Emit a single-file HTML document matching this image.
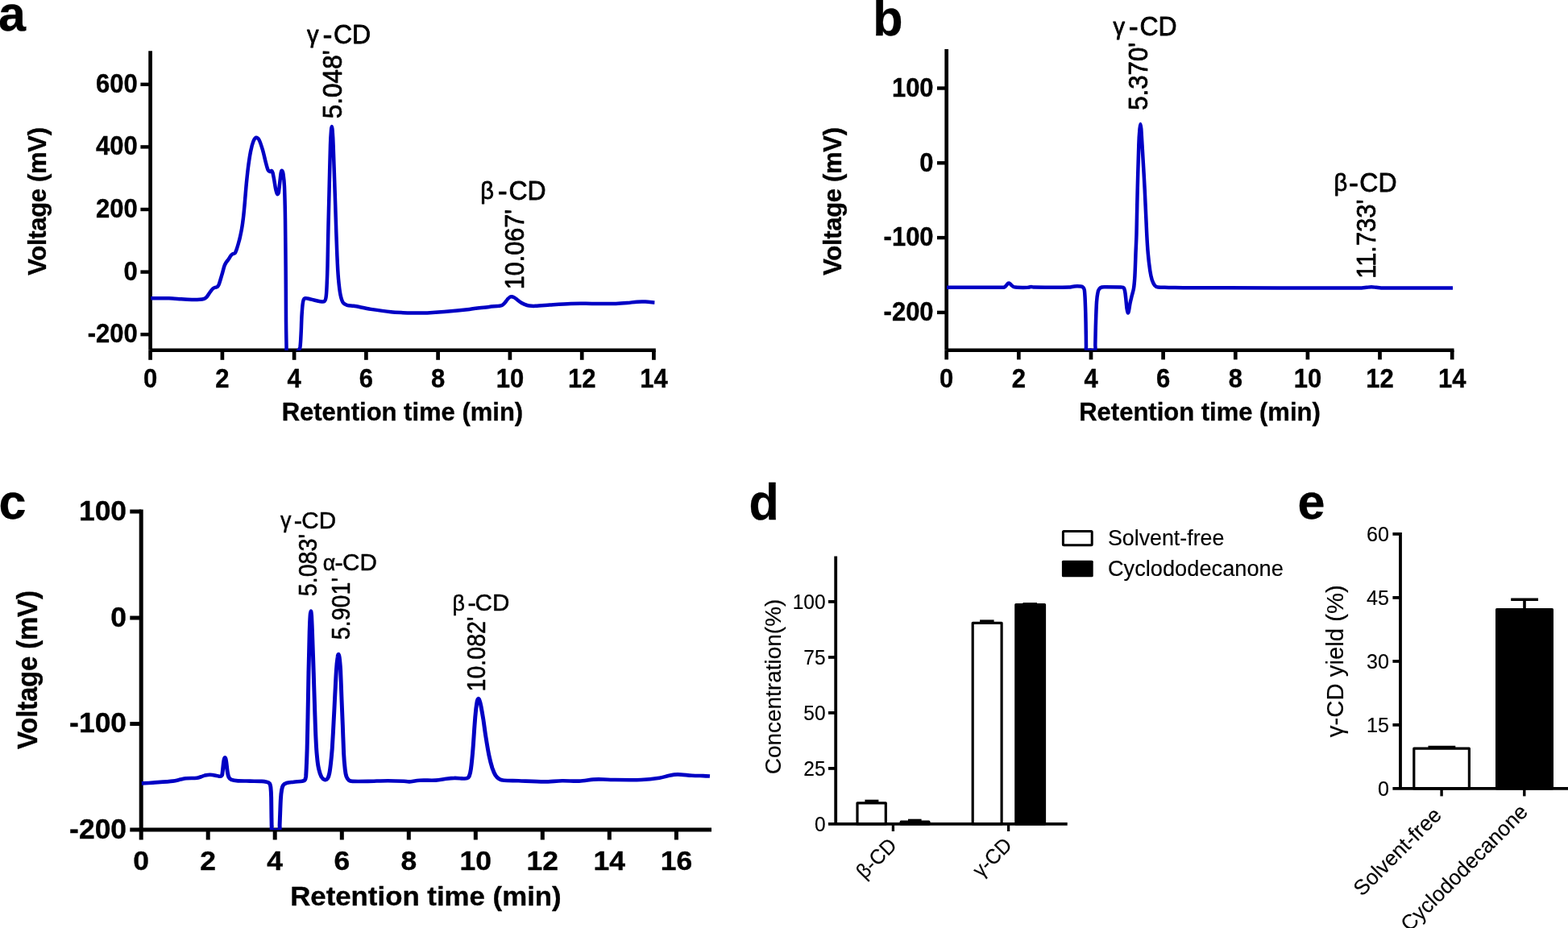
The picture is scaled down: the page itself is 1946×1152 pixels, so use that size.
<!DOCTYPE html>
<html lang="en"><head><meta charset="utf-8"><title>Figure</title>
<style>
html,body{margin:0;padding:0;background:#fff;}
body{width:1946px;height:1152px;overflow:hidden;}
svg{display:block;font-family:"Liberation Sans",sans-serif;fill:#000;}
</style></head><body>
<svg width="1946" height="1152" viewBox="0 0 1946 1152">
<rect x="0" y="0" width="1946" height="1152" fill="#fff"/>
<clipPath id="ca"><rect x="187.2" y="50" width="640" height="384.9"/></clipPath>
<clipPath id="cb"><rect x="1175.0" y="50" width="640" height="384.8"/></clipPath>
<clipPath id="cc"><rect x="175.6" y="620" width="720" height="410.3"/></clipPath>
<text transform="translate(-2.0 37.7) scale(1.000 1.000)" font-size="61.00" font-weight="bold" text-anchor="start" stroke="#000" stroke-width="0.35" stroke-linejoin="round">a</text>
<text transform="translate(1083.2 43.6) scale(1.000 1.030)" font-size="61.00" font-weight="bold" text-anchor="start" stroke="#000" stroke-width="0.35" stroke-linejoin="round">b</text>
<text transform="translate(-1.5 644.3) scale(1.000 1.000)" font-size="61.00" font-weight="bold" text-anchor="start" stroke="#000" stroke-width="0.35" stroke-linejoin="round">c</text>
<text transform="translate(929.5 644.5) scale(1.000 1.020)" font-size="61.00" font-weight="bold" text-anchor="start" stroke="#000" stroke-width="0.35" stroke-linejoin="round">d</text>
<text transform="translate(1610.5 644.3) scale(1.000 1.000)" font-size="61.00" font-weight="bold" text-anchor="start" stroke="#000" stroke-width="0.35" stroke-linejoin="round">e</text>
<line x1="186.6" y1="63.3" x2="186.6" y2="434.8" stroke="#000" stroke-width="4.70" stroke-linecap="butt"/>
<line x1="186.6" y1="434.8" x2="813.8" y2="434.8" stroke="#000" stroke-width="4.40" stroke-linecap="butt"/>
<line x1="186.6" y1="434.8" x2="186.6" y2="446.8" stroke="#000" stroke-width="4.70" stroke-linecap="butt"/>
<text transform="translate(186.6 481.0) scale(1.000 1.050)" font-size="31.00" font-weight="bold" text-anchor="middle" stroke="#000" stroke-width="0.35" stroke-linejoin="round">0</text>
<line x1="275.9" y1="434.8" x2="275.9" y2="446.8" stroke="#000" stroke-width="4.70" stroke-linecap="butt"/>
<text transform="translate(275.9 481.0) scale(1.000 1.050)" font-size="31.00" font-weight="bold" text-anchor="middle" stroke="#000" stroke-width="0.35" stroke-linejoin="round">2</text>
<line x1="365.1" y1="434.8" x2="365.1" y2="446.8" stroke="#000" stroke-width="4.70" stroke-linecap="butt"/>
<text transform="translate(365.1 481.0) scale(1.000 1.050)" font-size="31.00" font-weight="bold" text-anchor="middle" stroke="#000" stroke-width="0.35" stroke-linejoin="round">4</text>
<line x1="454.4" y1="434.8" x2="454.4" y2="446.8" stroke="#000" stroke-width="4.70" stroke-linecap="butt"/>
<text transform="translate(454.4 481.0) scale(1.000 1.050)" font-size="31.00" font-weight="bold" text-anchor="middle" stroke="#000" stroke-width="0.35" stroke-linejoin="round">6</text>
<line x1="543.6" y1="434.8" x2="543.6" y2="446.8" stroke="#000" stroke-width="4.70" stroke-linecap="butt"/>
<text transform="translate(543.6 481.0) scale(1.000 1.050)" font-size="31.00" font-weight="bold" text-anchor="middle" stroke="#000" stroke-width="0.35" stroke-linejoin="round">8</text>
<line x1="632.9" y1="434.8" x2="632.9" y2="446.8" stroke="#000" stroke-width="4.70" stroke-linecap="butt"/>
<text transform="translate(632.9 481.0) scale(1.000 1.050)" font-size="31.00" font-weight="bold" text-anchor="middle" stroke="#000" stroke-width="0.35" stroke-linejoin="round">10</text>
<line x1="722.2" y1="434.8" x2="722.2" y2="446.8" stroke="#000" stroke-width="4.70" stroke-linecap="butt"/>
<text transform="translate(722.2 481.0) scale(1.000 1.050)" font-size="31.00" font-weight="bold" text-anchor="middle" stroke="#000" stroke-width="0.35" stroke-linejoin="round">12</text>
<line x1="811.4" y1="434.8" x2="811.4" y2="446.8" stroke="#000" stroke-width="4.70" stroke-linecap="butt"/>
<text transform="translate(811.4 481.0) scale(1.000 1.050)" font-size="31.00" font-weight="bold" text-anchor="middle" stroke="#000" stroke-width="0.35" stroke-linejoin="round">14</text>
<line x1="174.4" y1="104.8" x2="186.6" y2="104.8" stroke="#000" stroke-width="4.40" stroke-linecap="butt"/>
<text transform="translate(170.8 114.8) scale(1.000 1.050)" font-size="31.00" font-weight="bold" text-anchor="end" stroke="#000" stroke-width="0.35" stroke-linejoin="round">600</text>
<line x1="174.4" y1="182.4" x2="186.6" y2="182.4" stroke="#000" stroke-width="4.40" stroke-linecap="butt"/>
<text transform="translate(170.8 192.4) scale(1.000 1.050)" font-size="31.00" font-weight="bold" text-anchor="end" stroke="#000" stroke-width="0.35" stroke-linejoin="round">400</text>
<line x1="174.4" y1="260.0" x2="186.6" y2="260.0" stroke="#000" stroke-width="4.40" stroke-linecap="butt"/>
<text transform="translate(170.8 270.0) scale(1.000 1.050)" font-size="31.00" font-weight="bold" text-anchor="end" stroke="#000" stroke-width="0.35" stroke-linejoin="round">200</text>
<line x1="174.4" y1="337.6" x2="186.6" y2="337.6" stroke="#000" stroke-width="4.40" stroke-linecap="butt"/>
<text transform="translate(170.8 347.6) scale(1.000 1.050)" font-size="31.00" font-weight="bold" text-anchor="end" stroke="#000" stroke-width="0.35" stroke-linejoin="round">0</text>
<line x1="174.4" y1="415.2" x2="186.6" y2="415.2" stroke="#000" stroke-width="4.40" stroke-linecap="butt"/>
<text transform="translate(170.8 425.2) scale(1.000 1.050)" font-size="31.00" font-weight="bold" text-anchor="end" stroke="#000" stroke-width="0.35" stroke-linejoin="round">-200</text>
<text transform="translate(499.4 521.8) scale(1.000 1.010)" font-size="31.00" font-weight="bold" text-anchor="middle" stroke="#000" stroke-width="0.35" stroke-linejoin="round">Retention time (min)</text>
<text transform="translate(57.0 250.0) rotate(-90) scale(1.000 1.020)" font-size="31.00" font-weight="bold" text-anchor="middle" stroke="#000" stroke-width="0.35" stroke-linejoin="round" letter-spacing="-0.30">Voltage (mV)</text>
<path d="M187.0,370.2C190.8,370.2 203.4,370.1 209.7,370.3C214.8,370.4 220.3,371.0 225.0,371.3C229.3,371.6 234.2,371.9 238.0,372.0C241.3,372.1 245.4,372.0 248.0,371.8C249.9,371.7 252.1,371.3 253.5,370.8C254.6,370.4 255.7,369.7 256.5,368.8C257.7,367.4 259.6,364.2 260.8,362.5C261.8,361.1 263.1,359.4 264.0,358.5C264.7,357.8 265.6,357.4 266.5,357.0C267.4,356.6 268.7,356.9 269.5,356.3C270.3,355.7 271.0,354.5 271.5,353.5C272.2,352.0 272.9,349.5 273.5,347.5C274.2,345.1 275.2,341.8 276.0,339.0C276.8,336.1 277.8,332.2 278.5,330.0C279.0,328.6 279.7,327.3 280.5,326.0C281.3,324.7 282.6,323.4 283.5,322.0C284.5,320.6 285.6,318.4 286.5,317.3C287.2,316.5 288.2,315.7 289.0,315.2C289.8,314.7 290.9,315.0 291.5,314.3C292.2,313.4 293.0,311.5 293.5,310.0C294.2,308.0 295.1,305.0 295.8,302.5C296.6,299.8 297.4,296.9 298.0,294.0C298.7,290.8 299.6,286.7 300.2,283.0C300.9,279.0 301.5,274.3 302.0,270.0C302.6,265.3 303.0,260.0 303.5,255.0C304.1,248.7 304.7,239.9 305.4,232.4C306.1,224.8 306.9,216.7 307.8,209.3C308.7,202.1 310.0,193.4 311.1,187.8C311.9,183.6 313.3,178.3 314.4,175.5C315.1,173.7 316.5,171.0 317.7,170.7C318.9,170.4 320.8,172.1 321.5,173.5C322.9,176.1 324.7,181.9 326.0,186.2C327.4,191.1 329.0,198.6 330.1,202.7C330.8,205.5 331.8,209.3 332.6,211.0C333.0,211.9 334.3,212.8 335.0,213.0C335.7,213.2 336.4,211.8 337.0,212.0C337.6,212.2 338.2,213.6 338.5,214.5C339.0,216.2 339.5,219.5 340.0,222.0C340.6,225.2 341.3,230.8 342.0,234.0C342.5,236.4 343.6,240.2 344.2,241.0C344.7,241.7 345.6,239.8 345.8,239.0C346.3,236.7 346.7,231.0 347.2,227.0C347.7,223.0 348.2,217.5 348.6,215.0C348.8,213.9 349.4,211.6 349.9,211.8C350.4,212.0 351.3,214.5 351.5,216.0C352.0,219.4 352.8,226.6 353.0,232.0C353.4,241.3 353.8,258.7 354.0,272.0C354.3,288.3 354.4,310.7 354.6,330.0C354.8,351.3 354.9,383.3 355.0,400.0C355.1,410.0 355.3,423.3 355.5,430.0C355.6,433.3 355.1,438.5 356.2,440.0C357.3,441.5 360.2,439.5 362.0,439.0C363.7,438.6 365.6,437.9 367.0,437.2C368.2,436.6 369.6,436.0 370.5,435.0C371.4,434.0 372.1,432.4 372.4,431.0C372.8,428.8 373.0,425.0 373.2,422.0C373.4,418.5 373.6,414.0 373.8,410.0C374.0,405.0 374.2,397.3 374.5,392.0C374.8,387.3 375.2,381.3 375.6,378.0C375.8,376.0 376.3,373.3 376.8,372.0C377.1,371.2 377.9,370.5 378.8,370.3C379.8,370.1 381.6,370.4 382.9,370.7C385.2,371.2 390.0,372.6 392.8,373.2C395.0,373.7 397.8,374.4 399.5,374.5C400.6,374.6 402.0,374.6 402.8,373.8C403.6,373.0 404.3,371.0 404.5,369.5C405.0,366.4 405.4,359.8 405.6,355.0C405.9,348.4 406.3,338.3 406.5,330.0C406.8,317.5 407.1,295.8 407.5,280.0C407.8,265.0 408.2,250.0 408.6,235.0C409.0,218.3 409.6,192.2 410.0,180.0C410.2,174.0 410.7,165.8 411.0,162.0C411.1,160.3 411.5,157.0 411.8,157.0C412.1,157.0 412.5,160.3 412.6,162.0C412.9,165.8 413.4,174.0 413.6,180.0C414.0,190.1 414.6,208.3 415.1,222.5C415.6,237.5 416.2,254.2 416.7,270.0C417.2,285.9 417.8,305.3 418.4,318.0C418.8,327.3 419.3,338.0 420.0,346.0C420.6,352.7 421.5,361.1 422.5,366.0C423.2,369.4 424.4,373.6 425.8,375.7C426.8,377.3 428.9,378.2 430.7,378.8C432.9,379.5 436.3,379.3 439.0,379.8C443.9,380.6 453.2,382.7 460.4,383.9C468.1,385.1 478.6,386.6 485.2,387.3C490.1,387.8 495.7,388.0 500.0,388.2C503.7,388.4 507.3,388.6 511.0,388.6C516.0,388.6 523.8,388.7 530.2,388.4C536.9,388.1 544.2,387.6 551.2,387.0C559.9,386.2 573.3,384.9 582.6,383.9C590.7,383.0 600.9,381.6 607.0,380.9C611.0,380.5 616.3,380.1 619.0,379.8C620.4,379.6 621.8,379.6 623.0,379.0C624.2,378.4 625.1,377.5 626.0,376.5C627.1,375.3 628.7,372.9 629.8,371.6C630.6,370.7 631.6,369.6 632.5,369.0C633.2,368.5 634.2,368.3 635.0,368.3C635.8,368.3 636.7,368.6 637.5,369.0C638.4,369.4 639.4,370.2 640.3,370.8C641.9,372.0 644.9,374.6 647.2,376.0C649.4,377.3 652.2,378.4 654.2,379.0C655.9,379.5 657.8,379.7 659.5,379.8C661.2,379.9 663.0,379.9 664.7,379.8C668.5,379.6 676.4,379.0 682.2,378.6C689.5,378.1 699.7,377.3 708.4,377.0C717.1,376.7 725.9,376.9 734.6,376.9C743.9,376.9 757.0,377.0 764.3,376.9C769.0,376.8 773.9,376.4 778.3,376.0C782.4,375.7 786.7,374.9 790.5,374.7C794.0,374.5 797.5,374.5 801.0,374.6C804.6,374.7 810.5,375.4 812.4,375.5" fill="none" stroke="#0000c4" stroke-width="4.50" stroke-linejoin="round" stroke-linecap="butt" clip-path="url(#ca)"/>
<text transform="translate(460.2 54.0) scale(1.000 1.040)" font-size="32.00" stroke="#000" stroke-width="0.75" stroke-linejoin="round"><tspan x="-79.2" dy="-0.6" text-anchor="start" font-size="29.12">γ</tspan><tspan x="-53.8" dy="1.56" text-anchor="middle" font-size="35.81">-</tspan><tspan x="0" dy="-0.96" text-anchor="end">CD</tspan></text>
<text transform="translate(677.6 247.6) scale(1.000 1.040)" font-size="32.00" stroke="#000" stroke-width="0.75" stroke-linejoin="round"><tspan x="-81.4" dy="-0.6" text-anchor="start" font-size="29.12">β</tspan><tspan x="-53.8" dy="1.56" text-anchor="middle" font-size="35.81">-</tspan><tspan x="0" dy="-0.96" text-anchor="end">CD</tspan></text>
<text transform="translate(424.3 147.2) rotate(-90) scale(0.985 1.040)" font-size="32.00" text-anchor="start" stroke="#000" stroke-width="0.75" stroke-linejoin="round">5.048'</text>
<text transform="translate(650.2 359.3) rotate(-90) scale(0.955 1.040)" font-size="32.00" text-anchor="start" stroke="#000" stroke-width="0.75" stroke-linejoin="round">10.067'</text>
<line x1="1174.7" y1="61.0" x2="1174.7" y2="434.8" stroke="#000" stroke-width="4.70" stroke-linecap="butt"/>
<line x1="1174.7" y1="434.8" x2="1804.5" y2="434.8" stroke="#000" stroke-width="4.40" stroke-linecap="butt"/>
<line x1="1174.7" y1="434.8" x2="1174.7" y2="446.4" stroke="#000" stroke-width="4.70" stroke-linecap="butt"/>
<text transform="translate(1174.7 481.0) scale(1.000 1.050)" font-size="31.00" font-weight="bold" text-anchor="middle" stroke="#000" stroke-width="0.35" stroke-linejoin="round">0</text>
<line x1="1264.3" y1="434.8" x2="1264.3" y2="446.4" stroke="#000" stroke-width="4.70" stroke-linecap="butt"/>
<text transform="translate(1264.3 481.0) scale(1.000 1.050)" font-size="31.00" font-weight="bold" text-anchor="middle" stroke="#000" stroke-width="0.35" stroke-linejoin="round">2</text>
<line x1="1354.0" y1="434.8" x2="1354.0" y2="446.4" stroke="#000" stroke-width="4.70" stroke-linecap="butt"/>
<text transform="translate(1354.0 481.0) scale(1.000 1.050)" font-size="31.00" font-weight="bold" text-anchor="middle" stroke="#000" stroke-width="0.35" stroke-linejoin="round">4</text>
<line x1="1443.6" y1="434.8" x2="1443.6" y2="446.4" stroke="#000" stroke-width="4.70" stroke-linecap="butt"/>
<text transform="translate(1443.6 481.0) scale(1.000 1.050)" font-size="31.00" font-weight="bold" text-anchor="middle" stroke="#000" stroke-width="0.35" stroke-linejoin="round">6</text>
<line x1="1533.3" y1="434.8" x2="1533.3" y2="446.4" stroke="#000" stroke-width="4.70" stroke-linecap="butt"/>
<text transform="translate(1533.3 481.0) scale(1.000 1.050)" font-size="31.00" font-weight="bold" text-anchor="middle" stroke="#000" stroke-width="0.35" stroke-linejoin="round">8</text>
<line x1="1622.9" y1="434.8" x2="1622.9" y2="446.4" stroke="#000" stroke-width="4.70" stroke-linecap="butt"/>
<text transform="translate(1622.9 481.0) scale(1.000 1.050)" font-size="31.00" font-weight="bold" text-anchor="middle" stroke="#000" stroke-width="0.35" stroke-linejoin="round">10</text>
<line x1="1712.5" y1="434.8" x2="1712.5" y2="446.4" stroke="#000" stroke-width="4.70" stroke-linecap="butt"/>
<text transform="translate(1712.5 481.0) scale(1.000 1.050)" font-size="31.00" font-weight="bold" text-anchor="middle" stroke="#000" stroke-width="0.35" stroke-linejoin="round">12</text>
<line x1="1802.2" y1="434.8" x2="1802.2" y2="446.4" stroke="#000" stroke-width="4.70" stroke-linecap="butt"/>
<text transform="translate(1802.2 481.0) scale(1.000 1.050)" font-size="31.00" font-weight="bold" text-anchor="middle" stroke="#000" stroke-width="0.35" stroke-linejoin="round">14</text>
<line x1="1163.0" y1="109.5" x2="1174.7" y2="109.5" stroke="#000" stroke-width="4.40" stroke-linecap="butt"/>
<text transform="translate(1158.6 119.8) scale(1.000 1.050)" font-size="31.00" font-weight="bold" text-anchor="end" stroke="#000" stroke-width="0.35" stroke-linejoin="round">100</text>
<line x1="1163.0" y1="202.3" x2="1174.7" y2="202.3" stroke="#000" stroke-width="4.40" stroke-linecap="butt"/>
<text transform="translate(1158.6 212.6) scale(1.000 1.050)" font-size="31.00" font-weight="bold" text-anchor="end" stroke="#000" stroke-width="0.35" stroke-linejoin="round">0</text>
<line x1="1163.0" y1="295.1" x2="1174.7" y2="295.1" stroke="#000" stroke-width="4.40" stroke-linecap="butt"/>
<text transform="translate(1158.6 305.4) scale(1.000 1.050)" font-size="31.00" font-weight="bold" text-anchor="end" stroke="#000" stroke-width="0.35" stroke-linejoin="round">-100</text>
<line x1="1163.0" y1="387.9" x2="1174.7" y2="387.9" stroke="#000" stroke-width="4.40" stroke-linecap="butt"/>
<text transform="translate(1158.6 398.2) scale(1.000 1.050)" font-size="31.00" font-weight="bold" text-anchor="end" stroke="#000" stroke-width="0.35" stroke-linejoin="round">-200</text>
<text transform="translate(1489.0 521.8) scale(1.000 1.010)" font-size="31.00" font-weight="bold" text-anchor="middle" stroke="#000" stroke-width="0.35" stroke-linejoin="round">Retention time (min)</text>
<text transform="translate(1044.0 250.0) rotate(-90) scale(1.000 1.020)" font-size="31.00" font-weight="bold" text-anchor="middle" stroke="#000" stroke-width="0.35" stroke-linejoin="round" letter-spacing="-0.30">Voltage (mV)</text>
<path d="M1175.0,356.8C1186.5,356.8 1232.2,356.9 1244.2,356.8C1245.2,356.8 1246.2,356.6 1247.0,356.2C1247.8,355.8 1248.4,354.8 1249.0,354.2C1249.6,353.6 1250.1,352.7 1250.6,352.3C1251.0,351.9 1251.6,351.6 1252.1,351.6C1252.6,351.6 1253.2,352.0 1253.6,352.3C1254.2,352.7 1254.8,353.6 1255.5,354.2C1256.3,354.8 1257.2,355.8 1258.2,356.2C1259.4,356.6 1261.0,356.8 1262.4,356.8C1265.3,356.9 1272.7,356.9 1275.6,356.8C1277.0,356.7 1278.3,356.1 1279.7,356.1C1281.1,356.1 1282.4,356.6 1283.8,356.6C1291.6,356.7 1318.5,356.8 1326.7,356.6C1328.9,356.6 1331.1,355.7 1333.3,355.5C1335.8,355.3 1339.7,355.4 1341.5,355.6C1342.5,355.7 1343.6,356.1 1344.3,356.8C1345.0,357.5 1345.6,358.8 1345.8,360.0C1346.2,362.2 1346.4,366.7 1346.6,370.0C1346.8,374.8 1347.1,382.7 1347.3,389.0C1347.5,396.5 1347.7,408.2 1347.8,415.0C1347.9,420.0 1347.9,426.7 1348.0,430.0C1348.0,431.5 1347.4,433.8 1348.3,434.6C1349.2,435.4 1351.8,434.6 1353.5,434.6C1355.3,434.6 1358.0,435.7 1359.0,434.6C1360.0,433.5 1359.2,430.2 1359.3,428.0C1359.4,423.1 1359.6,413.0 1359.8,405.5C1360.1,396.7 1360.5,382.1 1361.0,375.0C1361.3,371.0 1361.9,365.8 1362.5,363.0C1362.8,361.3 1363.7,359.4 1364.5,358.3C1365.2,357.4 1366.4,356.8 1367.5,356.5C1368.8,356.2 1370.5,356.3 1372.0,356.3C1376.1,356.3 1388.2,356.3 1392.0,356.5C1392.9,356.5 1394.0,356.6 1394.6,357.3C1395.3,358.1 1395.7,359.7 1396.0,361.0C1396.4,363.1 1396.9,367.0 1397.2,370.0C1397.6,373.7 1398.1,379.9 1398.5,383.0C1398.8,384.8 1399.4,388.0 1399.8,388.4C1400.2,388.8 1400.8,386.5 1401.0,385.5C1401.5,383.4 1402.0,379.1 1402.6,376.0C1403.3,372.8 1404.3,369.0 1405.0,366.0C1405.7,363.3 1406.6,360.7 1407.0,358.0C1407.6,354.2 1408.1,348.0 1408.4,343.0C1408.8,335.8 1409.2,323.5 1409.5,314.7C1409.8,306.5 1410.3,298.2 1410.5,290.0C1410.9,276.8 1411.2,253.7 1411.7,235.5C1412.2,217.2 1412.8,192.6 1413.3,180.0C1413.5,173.3 1414.1,164.3 1414.5,160.0C1414.7,158.0 1415.1,154.0 1415.4,154.0C1415.7,154.0 1416.1,158.0 1416.3,160.0C1416.6,164.3 1417.1,173.3 1417.5,180.0C1418.2,192.6 1419.8,217.2 1420.7,235.5C1421.6,253.7 1422.5,276.8 1423.2,290.0C1423.6,298.2 1424.1,307.0 1424.8,314.7C1425.4,321.9 1426.5,330.7 1427.3,336.2C1427.9,340.1 1428.8,344.7 1429.8,347.7C1430.6,350.0 1431.9,352.8 1433.1,354.3C1434.1,355.5 1435.7,356.4 1437.2,356.6C1440.1,357.0 1446.0,356.8 1450.4,356.9C1459.2,357.0 1476.8,357.3 1490.0,357.3C1529.9,357.4 1655.7,357.5 1690.0,357.4C1692.0,357.4 1694.0,357.0 1696.0,356.8C1698.0,356.6 1700.0,356.3 1702.0,356.3C1704.0,356.3 1706.0,356.6 1708.0,356.8C1710.0,357.0 1712.0,357.4 1714.0,357.4C1729.8,357.5 1788.2,357.4 1803.0,357.4" fill="none" stroke="#0000c4" stroke-width="4.50" stroke-linejoin="round" stroke-linecap="butt" clip-path="url(#cb)"/>
<text transform="translate(1460.6 44.0) scale(1.000 1.040)" font-size="32.00" stroke="#000" stroke-width="0.75" stroke-linejoin="round"><tspan x="-79.2" dy="-0.6" text-anchor="start" font-size="29.12">γ</tspan><tspan x="-54.0" dy="1.56" text-anchor="middle" font-size="35.81">-</tspan><tspan x="0" dy="-0.96" text-anchor="end">CD</tspan></text>
<text transform="translate(1733.5 237.8) scale(1.000 1.040)" font-size="32.00" stroke="#000" stroke-width="0.75" stroke-linejoin="round"><tspan x="-78.1" dy="-0.6" text-anchor="start" font-size="29.12">β</tspan><tspan x="-53.5" dy="1.56" text-anchor="middle" font-size="35.81">-</tspan><tspan x="0" dy="-0.96" text-anchor="end">CD</tspan></text>
<text transform="translate(1424.0 136.8) rotate(-90) scale(0.975 1.040)" font-size="32.00" text-anchor="start" stroke="#000" stroke-width="0.75" stroke-linejoin="round">5.370'</text>
<text transform="translate(1706.5 345.7) rotate(-90) scale(0.965 1.040)" font-size="32.00" text-anchor="start" stroke="#000" stroke-width="0.75" stroke-linejoin="round">11.733'</text>
<line x1="175.2" y1="632.5" x2="175.2" y2="1030.0" stroke="#000" stroke-width="5.00" stroke-linecap="butt"/>
<line x1="161.3" y1="1030.0" x2="883.0" y2="1030.0" stroke="#000" stroke-width="5.00" stroke-linecap="butt"/>
<line x1="175.2" y1="1030.0" x2="175.2" y2="1042.5" stroke="#000" stroke-width="5.00" stroke-linecap="butt"/>
<text transform="translate(175.2 1079.9) scale(1.075 1.035)" font-size="33.00" font-weight="bold" text-anchor="middle" stroke="#000" stroke-width="0.35" stroke-linejoin="round">0</text>
<line x1="258.2" y1="1030.0" x2="258.2" y2="1042.5" stroke="#000" stroke-width="5.00" stroke-linecap="butt"/>
<text transform="translate(258.2 1079.9) scale(1.075 1.035)" font-size="33.00" font-weight="bold" text-anchor="middle" stroke="#000" stroke-width="0.35" stroke-linejoin="round">2</text>
<line x1="341.2" y1="1030.0" x2="341.2" y2="1042.5" stroke="#000" stroke-width="5.00" stroke-linecap="butt"/>
<text transform="translate(341.2 1079.9) scale(1.075 1.035)" font-size="33.00" font-weight="bold" text-anchor="middle" stroke="#000" stroke-width="0.35" stroke-linejoin="round">4</text>
<line x1="424.3" y1="1030.0" x2="424.3" y2="1042.5" stroke="#000" stroke-width="5.00" stroke-linecap="butt"/>
<text transform="translate(424.3 1079.9) scale(1.075 1.035)" font-size="33.00" font-weight="bold" text-anchor="middle" stroke="#000" stroke-width="0.35" stroke-linejoin="round">6</text>
<line x1="507.3" y1="1030.0" x2="507.3" y2="1042.5" stroke="#000" stroke-width="5.00" stroke-linecap="butt"/>
<text transform="translate(507.3 1079.9) scale(1.075 1.035)" font-size="33.00" font-weight="bold" text-anchor="middle" stroke="#000" stroke-width="0.35" stroke-linejoin="round">8</text>
<line x1="590.3" y1="1030.0" x2="590.3" y2="1042.5" stroke="#000" stroke-width="5.00" stroke-linecap="butt"/>
<text transform="translate(590.3 1079.9) scale(1.075 1.035)" font-size="33.00" font-weight="bold" text-anchor="middle" stroke="#000" stroke-width="0.35" stroke-linejoin="round">10</text>
<line x1="673.3" y1="1030.0" x2="673.3" y2="1042.5" stroke="#000" stroke-width="5.00" stroke-linecap="butt"/>
<text transform="translate(673.3 1079.9) scale(1.075 1.035)" font-size="33.00" font-weight="bold" text-anchor="middle" stroke="#000" stroke-width="0.35" stroke-linejoin="round">12</text>
<line x1="756.3" y1="1030.0" x2="756.3" y2="1042.5" stroke="#000" stroke-width="5.00" stroke-linecap="butt"/>
<text transform="translate(756.3 1079.9) scale(1.075 1.035)" font-size="33.00" font-weight="bold" text-anchor="middle" stroke="#000" stroke-width="0.35" stroke-linejoin="round">14</text>
<line x1="839.4" y1="1030.0" x2="839.4" y2="1042.5" stroke="#000" stroke-width="5.00" stroke-linecap="butt"/>
<text transform="translate(839.4 1079.9) scale(1.075 1.035)" font-size="33.00" font-weight="bold" text-anchor="middle" stroke="#000" stroke-width="0.35" stroke-linejoin="round">16</text>
<line x1="161.3" y1="635.0" x2="175.2" y2="635.0" stroke="#000" stroke-width="5.00" stroke-linecap="butt"/>
<text transform="translate(157.1 645.7) scale(1.075 1.050)" font-size="33.00" font-weight="bold" text-anchor="end" stroke="#000" stroke-width="0.35" stroke-linejoin="round">100</text>
<line x1="161.3" y1="767.0" x2="175.2" y2="767.0" stroke="#000" stroke-width="5.00" stroke-linecap="butt"/>
<text transform="translate(157.1 777.7) scale(1.075 1.050)" font-size="33.00" font-weight="bold" text-anchor="end" stroke="#000" stroke-width="0.35" stroke-linejoin="round">0</text>
<line x1="161.3" y1="898.6" x2="175.2" y2="898.6" stroke="#000" stroke-width="5.00" stroke-linecap="butt"/>
<text transform="translate(157.1 909.3) scale(1.075 1.050)" font-size="33.00" font-weight="bold" text-anchor="end" stroke="#000" stroke-width="0.35" stroke-linejoin="round">-100</text>
<text transform="translate(157.1 1040.7) scale(1.075 1.050)" font-size="33.00" font-weight="bold" text-anchor="end" stroke="#000" stroke-width="0.35" stroke-linejoin="round">-200</text>
<text transform="translate(528.4 1124.0) scale(1.055 1.010)" font-size="33.00" font-weight="bold" text-anchor="middle" stroke="#000" stroke-width="0.35" stroke-linejoin="round">Retention time (min)</text>
<text transform="translate(45.6 831.7) rotate(-90) scale(1.000 1.085)" font-size="33.00" font-weight="bold" text-anchor="middle" stroke="#000" stroke-width="0.35" stroke-linejoin="round" letter-spacing="-0.20">Voltage (mV)</text>
<g clip-path="url(#cc)"><path transform="scale(1.080 1)" d="M162.6,972.4C164.8,972.3 171.4,971.9 175.7,971.6C181.7,971.1 193.3,970.3 198.6,969.6C201.6,969.2 204.9,968.2 207.4,967.6C209.6,967.1 211.7,966.5 213.9,966.3C217.0,966.0 223.3,966.1 226.1,965.8C227.8,965.6 229.5,964.8 231.0,964.3C232.5,963.8 233.8,963.0 235.3,962.6C237.0,962.2 239.3,961.6 241.4,961.7C243.7,961.8 247.1,962.6 249.1,963.0C250.4,963.2 252.1,964.0 253.1,963.8C254.0,963.7 254.9,962.9 255.2,962.0C255.7,960.5 255.8,957.3 256.1,955.0C256.4,952.3 256.7,948.2 257.0,946.0C257.2,944.5 257.6,942.4 257.9,941.5C258.0,941.1 258.3,940.4 258.5,940.4C258.7,940.4 259.1,941.1 259.2,941.5C259.4,942.4 259.8,944.5 260.0,946.0C260.4,948.7 260.8,954.4 261.3,957.5C261.7,959.9 262.0,962.9 262.8,964.6C263.4,966.0 264.5,967.3 265.8,967.9C267.6,968.7 270.9,969.2 273.5,969.4C277.1,969.7 282.7,969.5 287.2,969.6C291.8,969.7 297.7,969.7 300.9,969.9C302.8,970.0 305.0,970.4 306.5,970.8C307.7,971.1 309.0,971.5 309.7,972.5C310.5,973.5 310.8,975.4 311.0,977.0C311.3,979.9 311.6,985.7 311.7,990.0C311.8,996.3 311.9,1009.0 312.0,1015.0C312.1,1018.7 312.1,1023.5 312.2,1026.0C312.3,1027.4 311.8,1029.4 312.5,1030.2C313.2,1031.0 315.3,1030.6 316.7,1030.6C318.1,1030.6 320.3,1031.3 321.1,1030.2C321.9,1029.1 321.3,1026.1 321.4,1024.0C321.5,1020.6 321.7,1014.7 321.9,1010.0C322.1,1004.7 322.3,996.9 322.6,992.0C322.8,988.2 323.2,983.5 323.7,980.6C324.0,978.6 324.4,976.2 325.4,974.8C326.2,973.5 327.7,972.5 329.3,972.0C331.3,971.3 334.8,971.1 337.6,970.7C340.6,970.3 345.1,970.1 347.2,969.7C348.3,969.5 349.5,969.4 350.2,968.5C350.9,967.5 351.3,965.6 351.5,964.0C351.8,960.9 352.0,954.7 352.2,950.0C352.5,944.2 352.7,936.3 352.9,929.5C353.1,919.5 353.5,903.2 353.7,890.0C354.0,874.2 354.3,852.5 354.6,835.0C355.0,818.3 355.4,796.7 355.7,785.0C355.9,778.3 356.2,769.4 356.5,765.0C356.6,762.8 357.0,758.5 357.2,758.5C357.5,758.5 357.8,762.8 358.0,765.0C358.2,769.4 358.6,778.3 358.8,785.0C359.2,796.7 359.9,819.2 360.4,835.0C360.8,850.0 361.2,866.2 361.7,880.0C362.1,892.7 362.5,908.0 363.0,918.0C363.3,925.3 363.8,933.8 364.4,940.0C364.8,945.0 365.5,950.9 366.4,955.0C367.1,958.3 368.3,962.3 369.4,964.5C370.2,966.0 372.1,967.7 373.2,968.0C374.4,968.3 375.7,967.5 376.4,966.5C377.3,965.2 378.1,962.2 378.5,960.0C379.2,956.8 379.7,951.3 380.2,947.0C380.7,941.9 381.3,935.3 381.7,929.5C382.2,921.1 382.9,907.5 383.4,896.5C384.0,885.2 384.5,872.8 385.0,862.0C385.5,852.0 386.0,839.7 386.5,832.0C386.8,826.7 387.5,819.3 388.0,816.0C388.1,814.6 388.6,812.0 389.0,812.0C389.3,812.0 389.8,814.6 390.0,816.0C390.4,819.3 391.0,826.7 391.3,832.0C391.7,840.7 392.2,857.1 392.6,868.4C393.0,878.9 393.4,889.5 393.8,900.0C394.2,911.1 394.6,925.8 395.0,935.0C395.3,941.7 396.0,950.2 396.5,955.0C396.8,958.0 397.4,961.7 398.1,964.0C398.7,965.7 399.8,967.6 400.9,968.6C402.0,969.5 403.6,969.8 405.1,969.9C408.7,970.1 416.9,970.0 422.9,969.9C429.6,969.8 438.9,969.2 445.7,969.2C451.9,969.2 460.0,969.5 464.1,969.7C466.1,969.8 468.1,970.5 470.2,970.4C473.2,970.2 478.3,968.9 482.4,968.7C487.5,968.4 495.6,968.9 500.7,968.6C504.9,968.3 509.4,967.2 513.0,966.7C516.0,966.3 519.1,965.9 522.1,965.9C525.2,965.8 529.1,966.3 531.5,966.4C533.2,966.4 535.3,966.7 536.6,966.2C537.7,965.8 538.7,964.7 539.2,963.5C539.9,961.5 540.8,957.3 541.2,954.2C541.9,948.5 542.9,937.7 543.5,929.5C544.2,920.5 544.8,908.2 545.4,900.0C545.8,893.3 546.5,885.0 547.0,880.0C547.4,876.7 548.0,872.1 548.4,870.0C548.6,869.0 549.2,867.4 549.6,867.2C550.0,867.0 550.7,868.3 550.9,869.0C551.5,870.6 552.3,874.3 552.8,877.0C553.5,881.0 554.6,887.7 555.4,893.0C556.3,899.3 557.2,907.7 558.3,915.0C559.4,922.5 560.8,931.6 562.0,938.0C563.0,943.2 564.5,949.4 565.7,953.5C566.7,956.6 568.1,960.2 569.4,962.5C570.5,964.3 572.0,966.0 573.6,967.0C575.2,968.0 577.2,968.6 579.2,968.8C582.9,969.2 590.4,969.1 596.0,969.3C603.7,969.6 616.7,970.4 625.1,970.4C632.1,970.4 639.4,969.4 646.1,969.3C652.6,969.2 659.6,969.9 665.6,969.6C671.0,969.3 677.2,968.0 681.8,967.6C685.5,967.3 689.3,967.4 693.1,967.5C696.8,967.6 700.6,968.0 704.4,968.0C711.6,968.1 727.9,968.4 736.8,968.0C743.8,967.7 752.4,966.6 757.8,965.7C761.6,965.1 765.6,963.5 769.1,962.8C772.3,962.1 775.5,961.4 778.8,961.4C783.1,961.4 790.1,962.4 795.0,962.7C799.3,963.0 804.5,963.0 808.0,963.1C810.6,963.2 814.4,963.5 815.7,963.6" fill="none" stroke="#0000c4" stroke-width="4.60" stroke-linejoin="round" stroke-linecap="butt"/></g>
<text transform="translate(417.0 656.0) scale(1.020 1.040)" font-size="29.00" stroke="#000" stroke-width="0.50" stroke-linejoin="round"><tspan x="-67.7" dy="-0.6" text-anchor="start" font-size="26.39">γ</tspan><tspan x="-46.2" dy="1.56" text-anchor="middle" font-size="30.23">-</tspan><tspan x="0" dy="-0.96" text-anchor="end">CD</tspan></text>
<text transform="translate(467.8 708.2) scale(1.020 1.040)" font-size="29.00" stroke="#000" stroke-width="0.50" stroke-linejoin="round"><tspan x="-65.8" dy="-0.6" text-anchor="start" font-size="26.39">α</tspan><tspan x="-46.3" dy="1.56" text-anchor="middle" font-size="30.23">-</tspan><tspan x="0" dy="-0.96" text-anchor="end">CD</tspan></text>
<text transform="translate(632.3 758.3) scale(1.020 1.040)" font-size="29.00" stroke="#000" stroke-width="0.50" stroke-linejoin="round"><tspan x="-69.4" dy="-0.6" text-anchor="start" font-size="26.39">β</tspan><tspan x="-45.8" dy="1.56" text-anchor="middle" font-size="30.23">-</tspan><tspan x="0" dy="-0.96" text-anchor="end">CD</tspan></text>
<text transform="translate(392.6 740.3) rotate(-90) scale(0.990 1.070)" font-size="29.00" text-anchor="start" stroke="#000" stroke-width="0.50" stroke-linejoin="round">5.083'</text>
<text transform="translate(433.6 794.3) rotate(-90) scale(0.990 1.070)" font-size="29.00" text-anchor="start" stroke="#000" stroke-width="0.50" stroke-linejoin="round">5.901'</text>
<text transform="translate(602.4 858.4) rotate(-90) scale(0.985 1.070)" font-size="29.00" text-anchor="start" stroke="#000" stroke-width="0.50" stroke-linejoin="round">10.082'</text>
<line x1="1037.2" y1="690.5" x2="1037.2" y2="1022.9" stroke="#000" stroke-width="3.80" stroke-linecap="butt"/>
<line x1="1028.0" y1="746.9" x2="1037.2" y2="746.9" stroke="#000" stroke-width="3.80" stroke-linecap="butt"/>
<text transform="translate(1024.6 755.7) scale(1.000 1.040)" font-size="24.50" text-anchor="end" stroke="#000" stroke-width="0.15" stroke-linejoin="round">100</text>
<line x1="1028.0" y1="815.9" x2="1037.2" y2="815.9" stroke="#000" stroke-width="3.80" stroke-linecap="butt"/>
<text transform="translate(1024.6 824.7) scale(1.000 1.040)" font-size="24.50" text-anchor="end" stroke="#000" stroke-width="0.15" stroke-linejoin="round">75</text>
<line x1="1028.0" y1="884.9" x2="1037.2" y2="884.9" stroke="#000" stroke-width="3.80" stroke-linecap="butt"/>
<text transform="translate(1024.6 893.7) scale(1.000 1.040)" font-size="24.50" text-anchor="end" stroke="#000" stroke-width="0.15" stroke-linejoin="round">50</text>
<line x1="1028.0" y1="953.9" x2="1037.2" y2="953.9" stroke="#000" stroke-width="3.80" stroke-linecap="butt"/>
<text transform="translate(1024.6 962.7) scale(1.000 1.040)" font-size="24.50" text-anchor="end" stroke="#000" stroke-width="0.15" stroke-linejoin="round">25</text>
<text transform="translate(1024.6 1031.7) scale(1.000 1.040)" font-size="24.50" text-anchor="end" stroke="#000" stroke-width="0.15" stroke-linejoin="round">0</text>
<line x1="1108.4" y1="1022.9" x2="1108.4" y2="1032.0" stroke="#000" stroke-width="3.30" stroke-linecap="butt"/>
<line x1="1251.6" y1="1022.9" x2="1251.6" y2="1032.0" stroke="#000" stroke-width="3.30" stroke-linecap="butt"/>
<rect x="1064.0" y="996.8" width="35.3" height="26.1" fill="#fff" stroke="#000" stroke-width="3.20" stroke-linejoin="round"/>
<line x1="1073.4" y1="994.3" x2="1090.4" y2="994.3" stroke="#000" stroke-width="3.20" stroke-linecap="butt"/>
<rect x="1118.2" y="1020.2" width="34.7" height="2.7" fill="#000" stroke="#000" stroke-width="3.20" stroke-linejoin="round"/>
<line x1="1127.0" y1="1018.2" x2="1143.6" y2="1018.2" stroke="#000" stroke-width="3.00" stroke-linecap="butt"/>
<rect x="1207.2" y="773.4" width="35.9" height="249.5" fill="#fff" stroke="#000" stroke-width="3.20" stroke-linejoin="round"/>
<line x1="1216.1" y1="771.0" x2="1233.6" y2="771.0" stroke="#000" stroke-width="3.20" stroke-linecap="butt"/>
<rect x="1260.8" y="750.6" width="35.7" height="272.3" fill="#000" stroke="#000" stroke-width="3.20" stroke-linejoin="round"/>
<line x1="1269.4" y1="749.4" x2="1287.0" y2="749.4" stroke="#000" stroke-width="2.60" stroke-linecap="butt"/>
<line x1="1028.0" y1="1022.9" x2="1324.7" y2="1022.9" stroke="#000" stroke-width="3.80" stroke-linecap="butt"/>
<text transform="translate(969.0 852.5) rotate(-90) scale(0.992 1.010)" font-size="28.20" text-anchor="middle" stroke="#000" stroke-width="0.15" stroke-linejoin="round">Concentration(%)</text>
<text transform="translate(1114.3 1051.0) rotate(-45) scale(1.000 1.040)" font-size="24.80" text-anchor="end" stroke="#000" stroke-width="0.15" stroke-linejoin="round">β-CD</text>
<text transform="translate(1257.5 1050.6) rotate(-45) scale(1.000 1.040)" font-size="24.80" text-anchor="end" stroke="#000" stroke-width="0.15" stroke-linejoin="round">γ-CD</text>
<rect x="1319.4" y="659.4" width="35.8" height="17.4" rx="1" fill="#fff" stroke="#000" stroke-width="3"/>
<rect x="1317.9" y="695.8" width="38.8" height="20.4" rx="1.5" fill="#000"/>
<text transform="translate(1374.9 677.2) scale(0.982 1.010)" font-size="27.30" text-anchor="start" stroke="#000" stroke-width="0.15" stroke-linejoin="round">Solvent-free</text>
<text transform="translate(1374.9 715.2) scale(0.998 1.010)" font-size="27.30" text-anchor="start" stroke="#000" stroke-width="0.15" stroke-linejoin="round">Cyclododecanone</text>
<line x1="1738.0" y1="661.0" x2="1738.0" y2="978.9" stroke="#000" stroke-width="3.80" stroke-linecap="butt"/>
<line x1="1728.4" y1="662.9" x2="1738.0" y2="662.9" stroke="#000" stroke-width="3.80" stroke-linecap="butt"/>
<text transform="translate(1724.0 671.5) scale(1.000 1.040)" font-size="25.10" text-anchor="end" stroke="#000" stroke-width="0.15" stroke-linejoin="round">60</text>
<line x1="1728.4" y1="741.9" x2="1738.0" y2="741.9" stroke="#000" stroke-width="3.80" stroke-linecap="butt"/>
<text transform="translate(1724.0 750.5) scale(1.000 1.040)" font-size="25.10" text-anchor="end" stroke="#000" stroke-width="0.15" stroke-linejoin="round">45</text>
<line x1="1728.4" y1="820.9" x2="1738.0" y2="820.9" stroke="#000" stroke-width="3.80" stroke-linecap="butt"/>
<text transform="translate(1724.0 829.5) scale(1.000 1.040)" font-size="25.10" text-anchor="end" stroke="#000" stroke-width="0.15" stroke-linejoin="round">30</text>
<line x1="1728.4" y1="899.9" x2="1738.0" y2="899.9" stroke="#000" stroke-width="3.80" stroke-linecap="butt"/>
<text transform="translate(1724.0 908.5) scale(1.000 1.040)" font-size="25.10" text-anchor="end" stroke="#000" stroke-width="0.15" stroke-linejoin="round">15</text>
<text transform="translate(1724.0 987.5) scale(1.000 1.040)" font-size="25.10" text-anchor="end" stroke="#000" stroke-width="0.15" stroke-linejoin="round">0</text>
<line x1="1789.1" y1="978.9" x2="1789.1" y2="988.4" stroke="#000" stroke-width="3.40" stroke-linecap="butt"/>
<line x1="1891.8" y1="978.9" x2="1891.8" y2="988.4" stroke="#000" stroke-width="3.40" stroke-linecap="butt"/>
<rect x="1754.8" y="929.2" width="68.6" height="49.7" fill="#fff" stroke="#000" stroke-width="3.20" stroke-linejoin="round"/>
<line x1="1772.5" y1="927.2" x2="1806.3" y2="927.2" stroke="#000" stroke-width="3.00" stroke-linecap="butt"/>
<rect x="1857.6" y="756.6" width="68.8" height="222.3" fill="#000" stroke="#000" stroke-width="3.20" stroke-linejoin="round"/>
<line x1="1892.0" y1="744.2" x2="1892.0" y2="756.0" stroke="#000" stroke-width="3.60" stroke-linecap="butt"/>
<line x1="1875.2" y1="744.2" x2="1909.0" y2="744.2" stroke="#000" stroke-width="3.60" stroke-linecap="butt"/>
<line x1="1728.4" y1="978.9" x2="1946.0" y2="978.9" stroke="#000" stroke-width="3.80" stroke-linecap="butt"/>
<text transform="translate(1666.5 820.7) rotate(-90) scale(1.040 1.020)" font-size="28.20" text-anchor="middle" stroke="#000" stroke-width="0.15" stroke-linejoin="round">γ-CD yield (%)</text>
<text transform="translate(1790.5 1013.5) rotate(-45) scale(1.000 1.010)" font-size="26.20" text-anchor="end" stroke="#000" stroke-width="0.15" stroke-linejoin="round">Solvent-free</text>
<text transform="translate(1897.5 1009.5) rotate(-45) scale(1.000 1.010)" font-size="26.20" text-anchor="end" stroke="#000" stroke-width="0.15" stroke-linejoin="round">Cyclododecanone</text>
</svg>
</body></html>
